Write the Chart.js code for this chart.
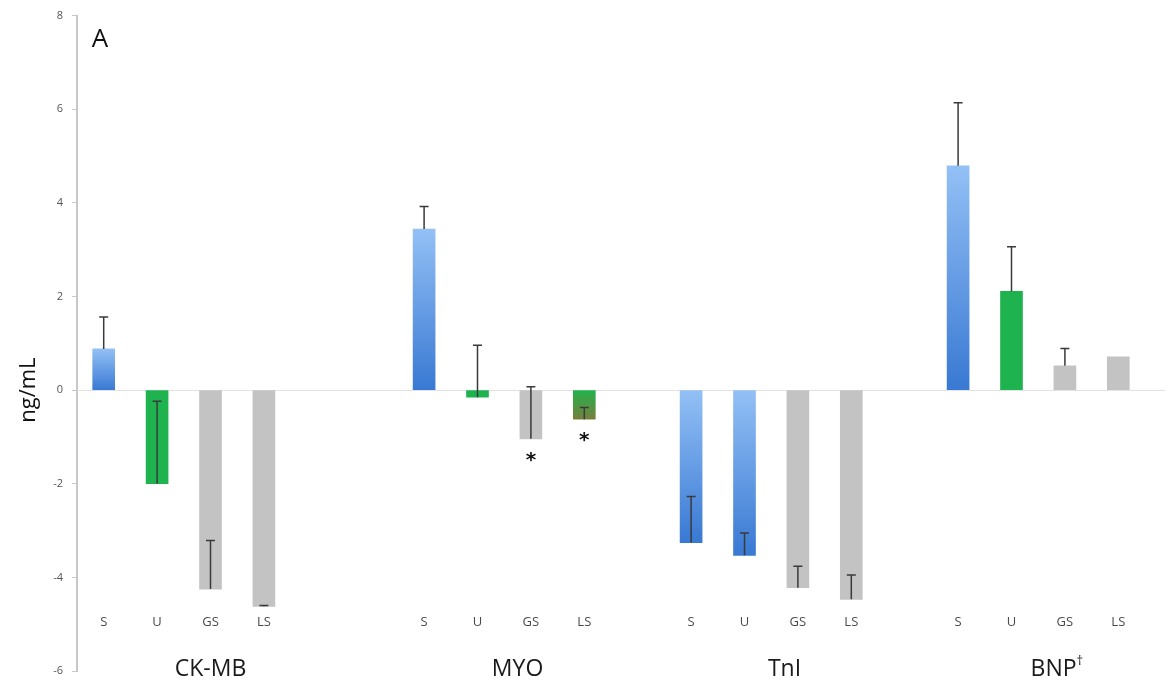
<!DOCTYPE html>
<html>
<head>
<meta charset="utf-8">
<script src="https://cdn.jsdelivr.net/npm/chart.js@4.4.1/dist/chart.umd.min.js"></script>
<style>
html,body{margin:0;padding:0;background:#ffffff;}
#wrap{width:1170px;height:688px;}
</style>
</head>
<body>
<div id="wrap"><canvas id="c" width="1170" height="688"></canvas></div>
<script>
// ---- data ----
const slotLabels = ['S','U','GS','LS','','','S','U','GS','LS','','S','U','GS','LS','','S','U','GS','LS'];
const values = [0.88,-2.0,-4.25,-4.62,null,null,3.44,-0.15,-1.04,-0.62,null,-3.26,-3.53,-4.22,-4.47,null,4.79,2.11,0.52,0.71];
const errors = [0.68,1.76,1.04,0.02,null,null,0.48,1.11,1.11,0.25,null,0.99,0.48,0.46,0.52,null,1.35,0.95,0.37,null];
const fills = ['blue','green','gray','gray','','','blue','green','gray','mixed','','blue','blue','gray','gray','','blue','green','gray','gray'];
const marks = ['','','','','','','','','*','*','','','','','','','','','',''];
const groupNames = ['CK-MB','MYO','TnI','BNP\u2020'];
const groupLabelSlots = [2.0, 7.75, 12.75, 17.85];
const yMin = -6, yMax = 8, yStep = 2;
const yTitle = 'ng/mL';
const panelLetter = 'A';

function barFill(ctx){
  const chart = ctx.chart;
  const i = ctx.dataIndex;
  const v = values[i];
  const kind = fills[i];
  if (v == null) return 'rgba(0,0,0,0)';
  if (kind === 'gray') return '#c3c3c3';
  if (kind === 'green') return '#1fb350';
  if (!chart.chartArea) return kind === 'blue' ? '#5e9be6' : '#3fa04a';
  const y = chart.scales.y;
  const top = y.getPixelForValue(Math.max(v, 0));
  let bot = y.getPixelForValue(Math.min(v, 0));
  if (bot - top < 1) bot = top + 1;
  const g = chart.ctx.createLinearGradient(0, top, 0, bot);
  if (kind === 'blue') {
    g.addColorStop(0, '#93c0f5');
    g.addColorStop(1, '#3979d3');
  } else {
    g.addColorStop(0, '#22b24c');
    g.addColorStop(1, '#75803c');
  }
  return g;
}

const overlay = {
  id: 'overlay',
  beforeDatasetsDraw(chart){
    const {ctx, scales:{y}, chartArea} = chart;
    const zy = Math.round(y.getPixelForValue(0)) + 0.5;
    ctx.save();
    ctx.strokeStyle = '#e2e2e2';
    ctx.lineWidth = 1;
    ctx.beginPath();
    ctx.moveTo(chartArea.left, zy);
    ctx.lineTo(chartArea.right + 20, zy);
    ctx.stroke();
    ctx.restore();
  },
  afterDatasetsDraw(chart){
    const {ctx, scales:{x, y}} = chart;
    const meta = chart.getDatasetMeta(0);
    ctx.save();
    // error bars
    ctx.strokeStyle = '#3a3a3a';
    ctx.lineWidth = 1.5;
    values.forEach((v, i) => {
      if (v == null || errors[i] == null) return;
      const bx = meta.data[i].x;
      const y0 = y.getPixelForValue(v);
      const y1 = y.getPixelForValue(v + errors[i]);
      ctx.beginPath();
      ctx.moveTo(bx, y0); ctx.lineTo(bx, y1);
      ctx.moveTo(bx - 4.5, y1); ctx.lineTo(bx + 4.5, y1);
      ctx.stroke();
    });
    // significance marks
    ctx.fillStyle = '#111';
    ctx.font = 'bold 20px "DejaVu Sans"';
    ctx.textAlign = 'center';
    ctx.textBaseline = 'middle';
    marks.forEach((m, i) => {
      if (!m || values[i] == null) return;
      const bx = meta.data[i].x;
      ctx.fillText(m, bx, y.getPixelForValue(Math.min(values[i], 0)) + 22);
    });
    // slot labels
    ctx.fillStyle = '#4a4a4a';
    ctx.font = '13px "Open Sans"';
    const ly = y.getPixelForValue(-4.96);
    slotLabels.forEach((s, i) => {
      if (!s) return;
      ctx.fillText(s, x.getPixelForValue(i), ly);
    });
    // group labels
    const x0 = x.getPixelForValue(0);
    const sw = x.getPixelForValue(1) - x0;
    const gy = y.getPixelForValue(-6) - 2;
    ctx.fillStyle = '#1a1a1a';
    groupNames.forEach((g, k) => {
      const cx = x0 + groupLabelSlots[k] * sw;
      if (g.endsWith('\u2020')) {
        const base = g.slice(0, -1);
        ctx.font = '23px "Open Sans"';
        const w1 = ctx.measureText(base).width;
        ctx.font = '13px "Open Sans"';
        const w2 = ctx.measureText('\u2020').width;
        const left = cx - (w1 + w2) / 2;
        ctx.textAlign = 'left';
        ctx.font = '23px "Open Sans"';
        ctx.fillText(base, left, gy);
        ctx.font = '13px "Open Sans"';
        ctx.fillText('\u2020', left + w1, gy - 8);
        ctx.textAlign = 'center';
      } else {
        ctx.font = '23px "Open Sans"';
        ctx.fillText(g, cx, gy);
      }
    });
    // panel letter
    ctx.fillStyle = '#111';
    ctx.font = '26px "Open Sans"';
    ctx.fillText(panelLetter, 100, 40);
    // y title
    ctx.save();
    ctx.translate(29, y.getPixelForValue(0));
    ctx.rotate(-Math.PI / 2);
    ctx.font = '22px "Open Sans"';
    ctx.fillStyle = '#111';
    ctx.fillText(yTitle, 0, 0);
    ctx.restore();
    ctx.restore();
  }
};

new Chart(document.getElementById('c'), {
  type: 'bar',
  data: {
    labels: slotLabels,
    datasets: [{
      data: values,
      backgroundColor: barFill,
      borderWidth: 0,
      barThickness: 22
    }]
  },
  options: {
    responsive: false,
    devicePixelRatio: 1,
    animation: false,
    events: [],
    layout: { padding: { left: 0, right: 25, top: 15, bottom: 17 } },
    plugins: { legend: { display: false }, tooltip: { enabled: false } },
    scales: {
      x: {
        type: 'category',
        display: false,
        offset: true
      },
      y: {
        min: yMin, max: yMax,
        afterFit: s => { s.width = 77; },
        ticks: {
          stepSize: yStep,
          color: '#555',
          padding: 9,
          font: { size: 11, family: '"Open Sans"' }
        },
        grid: {
          drawOnChartArea: false,
          tickColor: '#c8c8c8',
          tickLength: 5,
          lineWidth: 1
        },
        border: { color: '#c8c8c8', width: 2 }
      }
    }
  },
  plugins: [overlay]
});
</script>
</body>
</html>
